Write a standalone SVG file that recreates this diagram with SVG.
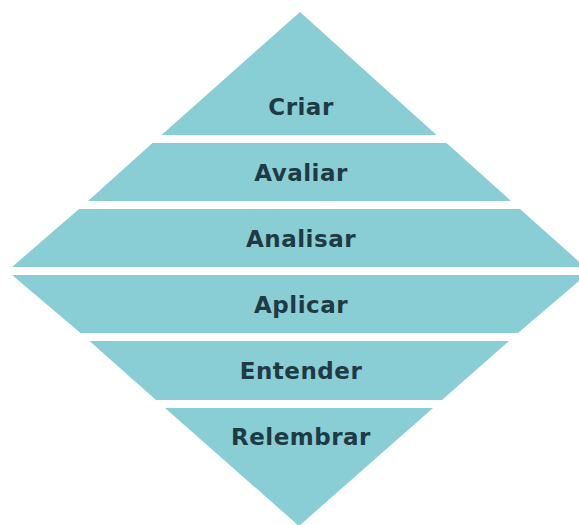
<svg xmlns="http://www.w3.org/2000/svg" width="579" height="525" viewBox="0 0 579 525">
  <style>
    .band { fill: #88ced4; }
    .label { font-family: "DejaVu Sans", "Liberation Sans", sans-serif; font-weight: bold; font-size: 23px; letter-spacing: 0.5px; fill: #1f3a44; text-anchor: middle; }
  </style>
  <rect width="579" height="525" fill="#ffffff"/>
  <!-- Diamond split into six levels, white gaps between them -->
  <g id="criar">
    <polygon class="band" points="300,12 436.5,135 161.5,135"/>
    <text class="label" x="301" y="115">Criar</text>
  </g>
  <g id="avaliar">
    <polygon class="band" points="152.5,143 446.5,143 511,201 88,201"/>
    <text class="label" x="301" y="181">Avaliar</text>
  </g>
  <g id="analisar">
    <polygon class="band" points="79,209 520,209 585,267 12,267"/>
    <text class="label" x="301" y="247">Analisar</text>
  </g>
  <g id="aplicar">
    <polygon class="band" points="12,275 586,275 518,333 80.5,333"/>
    <text class="label" x="301" y="313">Aplicar</text>
  </g>
  <g id="entender">
    <polygon class="band" points="89.5,341 509,341 442,400 156,400"/>
    <text class="label" x="301" y="379">Entender</text>
  </g>
  <g id="relembrar">
    <polygon class="band" points="165,408 433,408 299,526"/>
    <text class="label" x="301" y="445">Relembrar</text>
  </g>
</svg>
